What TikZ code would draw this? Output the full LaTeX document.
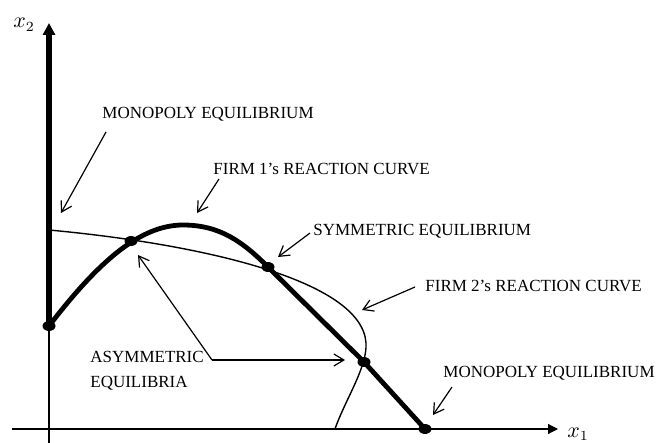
\documentclass[tikz,border=0pt]{standalone}
\usepackage{fontspec}
\setmainfont{Liberation Serif}
\usepackage{tikz}
\usetikzlibrary{arrows.meta,positioning,shapes.geometric}
\tikzset{
    eixo/.style={line width=0.6pt},
    eixoGrosso/.style={line width=2.8pt},
    reacaoUm/.style={line width=2.4pt, line join=round},
    reacaoDois/.style={line width=0.7pt},
    ponto/.style={
        ellipse,
        fill,
        inner sep=0pt,
        minimum width=6.5pt,
        minimum height=5pt
    },
    rotulo/.style={inner sep=0pt, font=\fontsize{8.5}{12.5}\selectfont},
    rotuloEixo/.style={inner sep=0pt, font=\fontsize{10.5}{12}\selectfont},
    seta/.style={-{Straight Barb[length=5pt,width=6pt]}, line width=0.6pt}
}

\begin{document}
\begin{tikzpicture}[x=0.5pt, y=-0.5pt]
        \useasboundingbox (0,0) rectangle (658,443);

        % equilibria
        \node[ponto] (monoX2) at (49,326) {};
        \node[ponto] (assimA) at (131,241) {};
        \node[ponto] (simetrico) at (268,267) {};
        \node[ponto] (assimB) at (364,362) {};
        \node[ponto] (monoX1) at (425,429) {};

        % axes
        \coordinate (topoX2) at (49,23);
        \coordinate (baseX2) at (49,443);
        \coordinate (inicioX1) at (12,429);
        \coordinate (fimX1) at (558,429);
        \draw[eixo] (baseX2) -- (monoX2.center);
        \draw[eixoGrosso, -{Triangle[length=6pt,width=6pt]}] (monoX2.center) -- (topoX2);
        \draw[eixo, -{Triangle[length=5pt,width=5pt]}] (inicioX1) -- (fimX1);
        \node[rotuloEixo, anchor=base west] (rotX1) at (567,437) {$x_1$};
        \node[rotuloEixo, anchor=base west] (rotX2) at (13,28) {$x_2$};

        % reaction curves
        \draw[reacaoUm] (monoX2.center)
            .. controls (98,262) and (140,225) .. (183,225)
            .. controls (220,225) and (243,242) .. (simetrico.center)
            -- (assimB.center) -- (monoX1.center);
        \draw[reacaoDois] (49,230)
            .. controls (200,244) and (362,280) .. (366,343)
            .. controls (367.5,367) and (345,400) .. (335,429);

        % labels
        \node[rotulo, anchor=base west] (monoTopo) at (102,119) {MONOPOLY EQUILIBRIUM};
        \node[rotulo, anchor=base west] (firmaUm) at (213,175) {FIRM 1's REACTION CURVE};
        \node[rotulo, anchor=base west] (simRot) at (313,235) {SYMMETRIC EQUILIBRIUM};
        \node[rotulo, anchor=base west] (firmaDois) at (425,292) {FIRM 2's REACTION CURVE};
        \node[rotulo, anchor=base west] (monoBaixo) at (443,377) {MONOPOLY EQUILIBRIUM};
        \node[rotulo, anchor=west, align=left] (assimRot) at (90,371) {ASYMMETRIC\\EQUILIBRIA};

        \coordinate (alvoMonoTopo) at (61,213);
        \coordinate (alvoFirmaUm) at (197,213);
        \coordinate (alvoSim) at (278,257);
        \coordinate (alvoFirmaDois) at (362,310);
        \coordinate (alvoMonoBaixo) at (433,415);
        \coordinate (alvoAssimA) at (138,255);
        \coordinate (alvoAssimB) at (345,360);
        \coordinate (canto) at (212,360);

        \draw[seta] ([shift={(4,13)}]monoTopo.base west) -- (alvoMonoTopo);
        \draw[seta] ([shift={(6,4)}]firmaUm.base west) -- (alvoFirmaUm);
        \draw[seta] ([shift={(-3,-2)}]simRot.base west) -- (alvoSim);
        \draw[seta] ([shift={(-10,-5)}]firmaDois.base west) -- (alvoFirmaDois);
        \draw[seta] ([shift={(9,10)}]monoBaixo.base west) -- (alvoMonoBaixo);
        \draw[seta] (canto) -- (alvoAssimA);
        \draw[seta] (canto) -- (alvoAssimB);
    \end{tikzpicture}
\end{document}
